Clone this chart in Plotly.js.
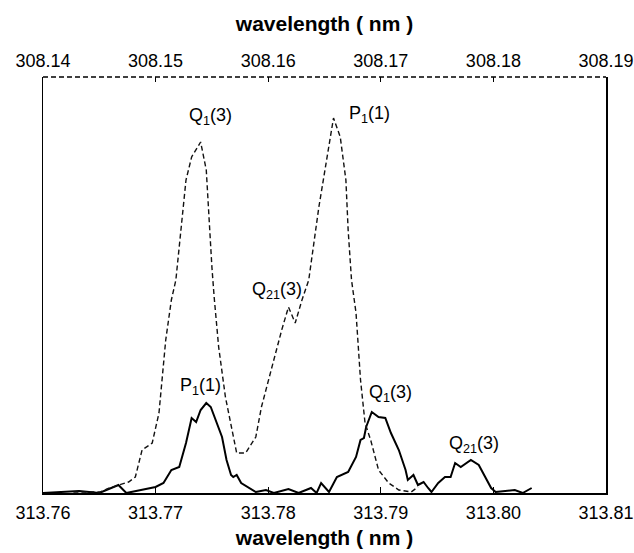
<!DOCTYPE html>
<html>
<head>
<meta charset="utf-8">
<script src="https://cdn.plot.ly/plotly-3.0.1.min.js"></script>
<style>html,body{margin:0;padding:0;background:#fff;}</style>
</head>
<body>
<div id="chart" style="width:634px;height:553px;"></div>
<script>
// Dashed spectrum (top axis, wavelength nm)
const dashedX = [308.1427,308.1451,308.1459,308.1476,308.1482,308.1488,308.1497,308.1503,308.1509,308.1514,
  308.1518,308.1523,308.1527,308.1532,308.1540,308.1545,308.1547,308.1550,308.1552,308.1556,
  308.1562,308.1568,308.1572,308.1580,308.1589,308.1594,308.1603,308.1612,308.1618,308.1624,
  308.1630,308.1636,308.1645,308.1652,308.1658,308.1664,308.1669,308.1671,308.1674,308.1678,
  308.1682,308.1686,308.1691,308.1698,308.1707,308.1716,308.1727,308.1733];
const dashedY = [1,1,5,11,16,43,50,80,153,193,
  213,273,313,336,351,323,280,226,196,146,
  96,63,40,40,56,86,126,163,186,170,
  193,213,286,336,375,356,313,263,213,180,
  113,70,53,23,10,3,1,6];

// Solid spectrum (bottom axis, wavelength nm)
const solidX = [313.7600,313.7632,313.7650,313.7667,313.7674,313.7688,313.7694,313.7700,313.7707,313.7714,
  313.7721,313.7727,313.7732,313.7736,313.7740,313.7745,313.7749,313.7754,313.7759,313.7763,
  313.7767,313.7769,313.7772,313.7776,313.7783,313.7789,313.7798,313.7805,313.7818,313.7827,
  313.7838,313.7843,313.7847,313.7854,313.7861,313.7871,313.7878,313.7882,313.7885,313.7887,
  313.7892,313.7898,313.7904,313.7909,313.7916,313.7922,313.7924,313.7929,313.7933,313.7938,
  313.7942,313.7945,313.7951,313.7957,313.7962,313.7966,313.7971,313.7976,313.7980,313.7987,
  313.7993,313.7998,313.8002,313.8019,313.8026,313.8034];
const solidY = [0,2,0,8,0,3,5,6,10,23,
  26,50,75,71,83,90,86,70,56,33,
  18,16,18,10,5,1,3,0,4,0,
  5,0,10,1,16,21,36,53,55,66,
  81,76,75,60,43,23,13,18,8,11,
  5,1,10,16,16,30,26,30,33,28,
  16,5,1,3,0,5];

const bottomTicks = [313.76,313.77,313.78,313.79,313.80,313.81];
const bottomTickText = ["313.76","313.77","313.78","313.79","313.80","313.81"];
const topTicks = [308.14,308.15,308.16,308.17,308.18,308.19];
const topTickText = ["308.14","308.15","308.16","308.17","308.18","308.19"];

const labelText = ["Q<sub>1</sub>(3)","P<sub>1</sub>(1)","Q<sub>21</sub>(3)","P<sub>1</sub>(1)","Q<sub>1</sub>(3)","Q<sub>21</sub>(3)"];
const labelAxis = ["x2","x2","x2","x","x","x"];
const labelX = [308.1549,308.1690,308.1608,313.7740,313.7909,313.7983];
const labelY = [377,379,203,107,100,49];

const font = "Liberation Sans, Arial, sans-serif";

const traces = [
  {x: dashedX, y: dashedY, xaxis: "x2", yaxis: "y", mode: "lines",
   line: {color: "#111", width: 1.4, dash: "5px,3px"}, hoverinfo: "skip"},
  {x: solidX, y: solidY, xaxis: "x", yaxis: "y", mode: "lines",
   line: {color: "#000", width: 2}, hoverinfo: "skip"}
];

const annotations = labelText.map((t, i) => ({
  text: t, x: labelX[i], y: labelY[i], xref: labelAxis[i], yref: "y",
  showarrow: false, font: {family: font, size: 18, color: "#000"}
}));

const layout = {
  width: 634, height: 553,
  margin: {l: 43, r: 28, t: 77, b: 60},
  paper_bgcolor: "#fff", plot_bgcolor: "#fff",
  showlegend: false,
  font: {family: font, color: "#000"},
  xaxis: {
    range: [313.76, 313.81], tickvals: bottomTicks, ticktext: bottomTickText,
    showgrid: false, zeroline: false, showline: true, linecolor: "#000", linewidth: 1.5,
    ticks: "inside", ticklen: 6, tickcolor: "#000", tickwidth: 1.2,
    tickfont: {family: font, size: 18, color: "#000"},
    ticklabeloverflow: "allow",
    ticklabelstandoff: 3,
    title: {text: "<b>wavelength ( nm )</b>", font: {family: font, size: 21, color: "#000"}, standoff: 8}
  },
  xaxis2: {
    range: [308.14, 308.19], tickvals: topTicks, ticktext: topTickText,
    overlaying: "x", side: "top", anchor: "y",
    showgrid: false, zeroline: false, showline: false,
    ticks: "inside", ticklen: 5, tickcolor: "#000", tickwidth: 1.2,
    tickfont: {family: font, size: 18, color: "#000"},
    ticklabeloverflow: "allow",
    ticklabelstandoff: 5,
    title: {text: "<b>wavelength ( nm )</b>", font: {family: font, size: 21, color: "#000"}, standoff: 14}
  },
  yaxis: {
    range: [0, 416], showticklabels: false, ticks: "",
    showgrid: false, zeroline: false, showline: true, mirror: true,
    linecolor: "#000", linewidth: 1.5
  },
  shapes: [
    {type: "line", xref: "paper", yref: "paper", x0: 0, x1: 1, y0: 1, y1: 1,
     line: {color: "#000", width: 1.3, dash: "5px,3px"}}
  ],
  annotations: annotations
};

Plotly.newPlot("chart", traces, layout, {staticPlot: true, displayModeBar: false});
</script>
</body>
</html>
